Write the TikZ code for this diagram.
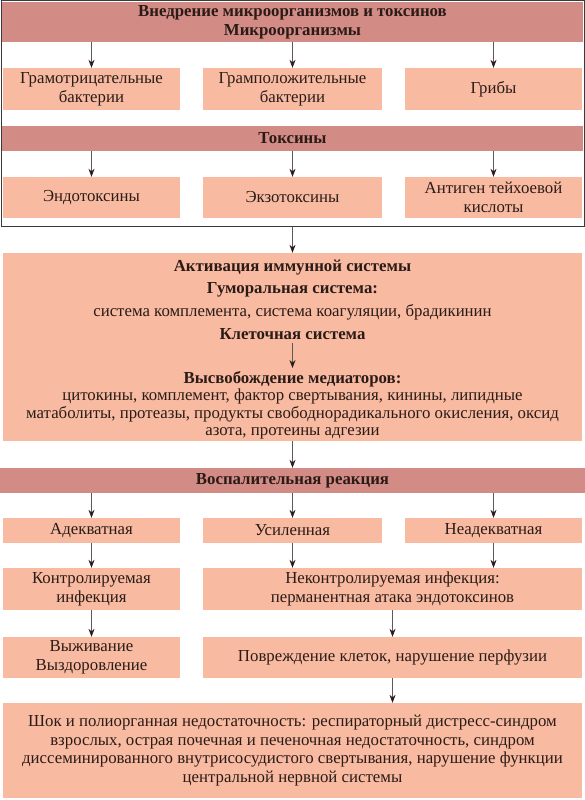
\documentclass[tikz,border=0pt]{standalone}
\usepackage{fontspec}
\setmainfont{Liberation Serif}
\usetikzlibrary{arrows.meta}
\definecolor{barc}{HTML}{D38B86}
\definecolor{boxc}{HTML}{F8BBA2}
\definecolor{txtc}{HTML}{2B1B17}
\definecolor{arrc}{HTML}{5A5A5A}
\definecolor{framec}{HTML}{3A3A3A}
\newcommand\fsz{\fontsize{16.8}{18.6}\selectfont}
\newcommand\fszt{\fontsize{16.8}{17.2}\selectfont}
\begin{document}
\begin{tikzpicture}[x=1pt,y=-1pt,
  box/.style={fill=boxc, draw=none, inner sep=0pt, align=center, text=txtc, font=\fsz},
  barbox/.style={fill=barc, draw=none, inner sep=0pt, align=center, text=txtc, font=\fsz\bfseries},
  plain/.style={inner sep=0pt, align=center, text=txtc, font=\fsz},
  bplain/.style={inner sep=0pt, align=center, text=txtc, font=\fsz\bfseries},
  arr/.style={draw=arrc, line width=0.7pt, -{Stealth[length=8pt,width=6pt,color=txtc]}},
  frm/.style={draw=framec, line width=1pt, inner sep=0pt, fill=none}
]
\useasboundingbox (0,0) rectangle (585,800);
\fill[white] (0,0) rectangle (585,800);

% frame of the top section
\node[frm, minimum width=583pt, minimum height=225pt] (frame) at (292.5,113.5) {};

% top bar
\node[barbox, minimum width=581pt, minimum height=40pt] (top) at (292.5,22)
  {Внедрение микроорганизмов и токсинов\\Микроорганизмы};

% row 1
\node[box, minimum width=177pt, minimum height=42pt] (gneg) at (91.5,89) {Грамотрицательные\\бактерии};
\node[box, minimum width=179pt, minimum height=42pt] (gpos) at (292.5,89) {Грамположительные\\бактерии};
\node[box, minimum width=177pt, minimum height=42pt] (fung) at (493.5,89) {Грибы};

% toxins bar
\node[barbox, minimum width=581pt, minimum height=25pt] (tox) at (292.5,138.5) {Токсины};

% row 2
\node[box, minimum width=177pt, minimum height=41pt] (endo) at (91.5,197.5) {Эндотоксины};
\node[box, minimum width=179pt, minimum height=41pt] (exo) at (292.5,197.5) {Экзотоксины};
\node[box, minimum width=177pt, minimum height=41pt] (teich) at (493.5,197.5) {Антиген тейхоевой\\кислоты};

% big box
\node[box, minimum width=579pt, minimum height=188pt] (big) at (292.5,347) {};
\node[bplain] (act) at (292.5,268) {Активация иммунной системы};
\node[bplain] (hum) at (292.5,290) {Гуморальная система:};
\node[plain] (humt) at (292.5,312) {система комплемента, система коагуляции, брадикинин};
\node[bplain] (cell) at (292.5,334) {Клеточная система};
\node[bplain] (rel) at (292.5,379) {Высвобождение медиаторов:};
\node[plain, font=\fszt] (relt) at (292.5,414) {цитокины, комплемент, фактор свертывания, кинины, липидные\\матаболиты, протеазы, продукты свободнорадикального окисления, оксид\\азота, протеины адгезии};

% inflammation bar
\node[barbox, minimum width=585pt, minimum height=25pt] (inf) at (292.5,480.5) {Воспалительная реакция};

% row A
\node[box, minimum width=177pt, minimum height=25pt] (adeq) at (91.5,530.5) {Адекватная};
\node[box, minimum width=179pt, minimum height=25pt] (enh) at (292.5,530.5) {Усиленная};
\node[box, minimum width=177pt, minimum height=25pt] (inad) at (493.5,530.5) {Неадекватная};

% row B
\node[box, minimum width=177pt, minimum height=42pt] (ctrl) at (91.5,589) {Контролируемая\\инфекция};
\node[box, minimum width=379pt, minimum height=42pt] (unctrl) at (392.5,589) {Неконтролируемая инфекция:\\перманентная атака эндотоксинов};

% row C
\node[box, minimum width=177pt, minimum height=41pt] (surv) at (91.5,657.5) {Выживание\\Выздоровление};
\node[box, minimum width=379pt, minimum height=41pt] (dmg) at (392.5,657.5) {Повреждение клеток, нарушение перфузии};

% bottom box
\node[box, minimum width=579pt, minimum height=95pt] (shock) at (292.5,750.5)
  {Шок и полиорганная недостаточность: респираторный дистресс-синдром\\взрослых, острая почечная и печеночная недостаточность, синдром\\диссеминированного внутрисосудистого свертывания, нарушение функции\\центральной нервной системы};

% arrows
\draw[arr] (gneg.north |- top.south) -- (gneg.north);
\draw[arr] (gpos.north |- top.south) -- (gpos.north);
\draw[arr] (fung.north |- top.south) -- (fung.north);
\draw[arr] (endo.north |- tox.south) -- (endo.north);
\draw[arr] (exo.north |- tox.south) -- (exo.north);
\draw[arr] (teich.north |- tox.south) -- (teich.north);
\draw[arr] (frame.south) -- (big.north);
\draw[arr] ([yshift=-3pt]cell.south) -- ([yshift=3pt]rel.north);
\draw[arr] (big.south) -- (inf.north);
\draw[arr] (adeq.north |- inf.south) -- (adeq.north);
\draw[arr] (enh.north |- inf.south) -- (enh.north);
\draw[arr] (inad.north |- inf.south) -- (inad.north);
\draw[arr] (adeq.south) -- (ctrl.north);
\draw[arr] (enh.south) -- (enh.south |- unctrl.north);
\draw[arr] (inad.south) -- (inad.south |- unctrl.north);
\draw[arr] (ctrl.south) -- (surv.north);
\draw[arr] (unctrl.south) -- (dmg.north);
\draw[arr] (dmg.south) -- (dmg.south |- shock.north);
\end{tikzpicture}
\end{document}
